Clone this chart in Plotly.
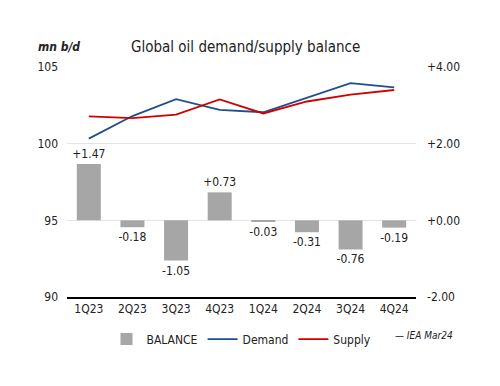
import plotly.graph_objects as go

quarters = ["1Q23", "2Q23", "3Q23", "4Q23", "1Q24", "2Q24", "3Q24", "4Q24"]
balance = [1.47, -0.18, -1.05, 0.73, -0.03, -0.31, -0.76, -0.19]
demand = [100.33, 101.8, 102.9, 102.2, 102.05, 103.0, 103.95, 103.67]
supply = [101.78, 101.67, 101.9, 102.89, 101.97, 102.75, 103.2, 103.5]

left_ticks = [90, 95, 100, 105]
right_ticks = [-2, 0, 2, 4]

FONT = "DejaVu Sans Condensed, DejaVu Sans"

fig = go.Figure()
fig.add_trace(go.Bar(
    x=quarters, y=balance, name="BALANCE", yaxis="y2",
    marker=dict(color="#A6A6A6", line=dict(width=0)),
    width=0.55,
    text=[f"{v:+.2f}" for v in balance],
    textposition="outside", cliponaxis=False, constraintext="none",
    textfont=dict(size=12, color="#222", family=FONT),
))
fig.add_trace(go.Scatter(
    x=quarters, y=demand, name="Demand", mode="lines",
    line=dict(color="#1F4E8C", width=1.8),
))
fig.add_trace(go.Scatter(
    x=quarters, y=supply, name="Supply", mode="lines",
    line=dict(color="#D00000", width=1.8),
))

fig.update_layout(
    width=500, height=386,
    margin=dict(l=67, r=84, t=67, b=89, autoexpand=False),
    paper_bgcolor="white", plot_bgcolor="white",
    font=dict(family=FONT, size=12, color="#222"),
    showlegend=True,
    legend=dict(orientation="h", x=0.5, xanchor="center", y=-0.12, yanchor="top",
                font=dict(size=12), itemwidth=30, tracegroupgap=0,
                traceorder="normal"),
    xaxis=dict(showgrid=False, showline=True, linecolor="black", linewidth=1.5,
               ticks="", tickfont=dict(size=12), range=[-0.5, 7.5]),
    yaxis=dict(range=[90, 105], tickvals=left_ticks, showgrid=True,
               gridcolor="#E3E3E3", gridwidth=1, zeroline=False,
               tickfont=dict(size=12), ticklabelstandoff=8),
    yaxis2=dict(range=[-2, 4], tickvals=right_ticks, overlaying="y", side="right",
                showgrid=False, zeroline=False,
                ticktext=[f"{v:+.2f}" for v in right_ticks],
                tickfont=dict(size=12), ticklabelstandoff=10),
    annotations=[
        dict(text="<b><i>mn b/d</i></b>", x=36, y=47, showarrow=False,
             font=dict(size=12), xanchor="left", yanchor="middle"),
        dict(text="Global oil demand/supply balance", x=245, y=47, showarrow=False,
             font=dict(size=15), xanchor="center", yanchor="middle"),
        dict(text="<i>— IEA Mar24</i>", x=455, y=335, showarrow=False,
             font=dict(size=10), xanchor="right", yanchor="middle"),
    ],
)
# convert pixel annotations to paper coords
pw = 500 - 67 - 84
ph = 386 - 67 - 89
for a in fig.layout.annotations:
    a.xref = "paper"; a.yref = "paper"
    a.x = (a.x - 67) / pw
    a.y = (386 - 89 - a.y) / ph

fig.write_html("out.html", config={"displayModeBar": False},
               post_script="document.body.style.margin='0';")
